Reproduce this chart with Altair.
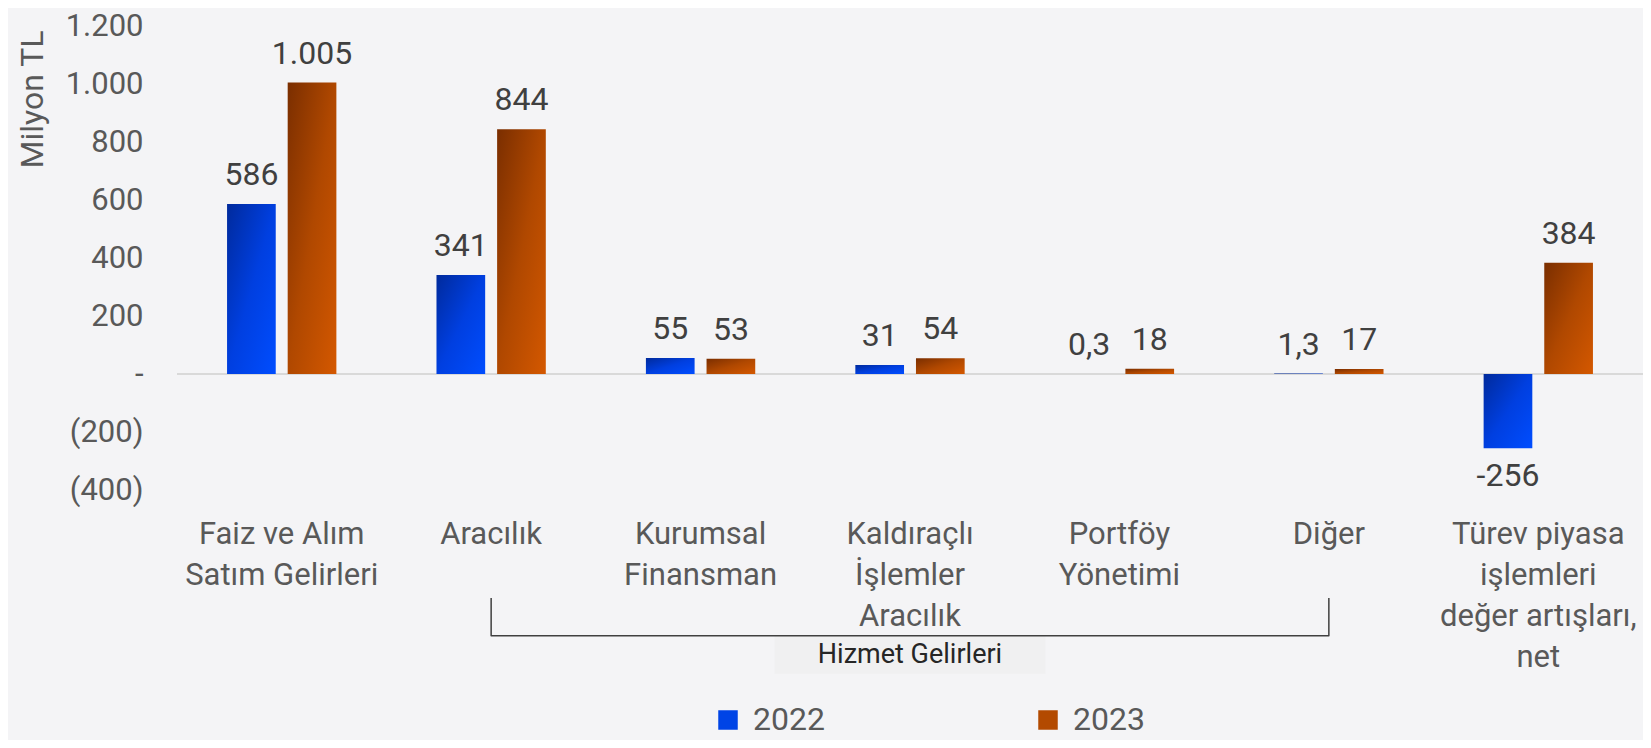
import altair as alt
import pandas as pd

categories = ["Faiz ve Alım|Satım Gelirleri", "Aracılık", "Kurumsal|Finansman",
              "Kaldıraçlı|İşlemler|Aracılık", "Portföy|Yönetimi", "Diğer",
              "Türev piyasa|işlemleri|değer artışları,|net"]
years = ["2022", "2023"]
values_2022 = [586, 341, 55, 31, 0.3, 1.3, -256]
values_2023 = [1005, 844, 53, 54, 18, 17, 384]
labels_2022 = ["586", "341", "55", "31", "0,3", "1,3", "-256"]
labels_2023 = ["1.005", "844", "53", "54", "18", "17", "384"]
y_ticks = [-400, -200, 0, 200, 400, 600, 800, 1000, 1200]
y_domain = [-400, 1200]

bracket_cats = ["Aracılık", "Aracılık", "Diğer", "Diğer"]
bracket_vals = [-772, -903, -903, -772]
bracket_mid = "Kaldıraçlı|İşlemler|Aracılık"
bracket_label = "Hizmet Gelirleri"
box_top, box_bottom = -903, -1034

rows = []
for c, v, l in zip(categories, values_2022, labels_2022):
    rows.append({"category": c, "year": "2022", "value": v, "label": l})
for c, v, l in zip(categories, values_2023, labels_2023):
    rows.append({"category": c, "year": "2023", "value": v, "label": l})
df = pd.DataFrame(rows)

bracket_df = pd.DataFrame({"category": bracket_cats, "value": bracket_vals,
                           "order": list(range(len(bracket_cats)))})
box_df = pd.DataFrame({"category": [bracket_mid], "value": [box_top], "value2": [box_bottom]})
box_text_df = pd.DataFrame({"category": [bracket_mid], "value": [(box_top + box_bottom) / 2],
                            "label": [bracket_label]})
zero_df = pd.DataFrame({"value": [0]})

FONT = "Roboto"
GREY = "#595959"

x_enc = alt.X("category:N", sort=categories,
              scale=alt.Scale(domain=categories, paddingInner=0.478, paddingOuter=0.239),
              axis=alt.Axis(title=None, labelExpr="split(datum.label, '|')", labelAngle=0,
                            domain=False, ticks=False, labelPadding=29, labelBaseline="top",
                            labelLineHeight=41, labelFontSize=31, labelColor=GREY,
                            labelLimit=0, labelFont=FONT))
y_scale = alt.Scale(domain=y_domain, nice=False, zero=False)
label_expr = ("datum.value == 0 ? '-' : (datum.value < 0 ? '(' + replace(format(-datum.value, ','), ',', '.') + ')'"
              " : replace(format(datum.value, ','), ',', '.'))")
y_enc = alt.Y("value:Q", scale=y_scale,
              axis=alt.Axis(values=y_ticks, labelExpr=label_expr, grid=False, domain=False,
                            ticks=False, labelPadding=34, labelFontSize=31, labelColor=GREY,
                            labelFont=FONT, title="Milyon TL", titleFontSize=32,
                            titleColor=GREY, titleFontWeight="normal", titleFont=FONT,
                            titleX=-128, titleY=4, titleAngle=270, titleAlign="right",
                            titleBaseline="bottom"))
xoff = alt.XOffset("year:N", scale=alt.Scale(domain=years, paddingInner=0.197))


def grad(c0, c1, c2):
    return alt.LinearGradient(gradient="linear",
                              stops=[alt.GradientStop(offset=0, color=c0),
                                     alt.GradientStop(offset=0.5, color=c1),
                                     alt.GradientStop(offset=1, color=c2)],
                              x1=0, y1=0, x2=1, y2=1)


blue_grad = grad("#002a9c", "#003fe0", "#004dff")
orange_grad = grad("#7a2e00", "#b04800", "#d45800")

base = alt.Chart(df)

zero_rule = alt.Chart(zero_df).mark_rule(color="#d9d9d9", strokeWidth=2).encode(y=y_enc)

bars22 = base.transform_filter("datum.year == '2022'").mark_bar(fill=blue_grad).encode(
    x=x_enc, xOffset=xoff, y=y_enc)
bars23 = base.transform_filter("datum.year == '2023'").mark_bar(fill=orange_grad).encode(
    x=x_enc, xOffset=xoff, y=y_enc)

legend_layer = base.mark_square(opacity=0).encode(
    x=x_enc, xOffset=xoff, y=y_enc,
    color=alt.Color("year:N", scale=alt.Scale(domain=years, range=["#0044e6", "#b34a00"]),
                    legend=alt.Legend(orient="none", legendX=535, legendY=678,
                                      direction="horizontal", title=None, symbolType="square",
                                      symbolSize=380, symbolOpacity=1, symbolStrokeWidth=0,
                                      labelFontSize=32, labelColor=GREY, labelFont=FONT,
                                      columnPadding=207, labelOffset=9)))

text_pos = base.transform_filter("datum.value >= 0").mark_text(
    dy=-19, baseline="alphabetic", fontSize=32, color="#404040", font=FONT).encode(
    x=x_enc, xOffset=xoff, y=y_enc, text="label:N")
text_neg = base.transform_filter("datum.value < 0").mark_text(
    dy=38, baseline="alphabetic", fontSize=32, color="#404040", font=FONT).encode(
    x=x_enc, xOffset=xoff, y=y_enc, text="label:N")

box = alt.Chart(box_df).mark_bar(width=271, fill="#f0f0f1").encode(
    x=x_enc, y=y_enc, y2="value2:Q")
box_text = alt.Chart(box_text_df).mark_text(fontSize=27, color="#262626", font=FONT,
                                            baseline="middle").encode(
    x=x_enc, y=y_enc, text="label:N")
bracket = alt.Chart(bracket_df).mark_line(color="#404040", strokeWidth=1.5,
                                          strokeJoin="round").encode(
    x=x_enc, y=y_enc, order="order:Q")

chart = alt.layer(zero_rule, box, bracket, box_text, bars22, bars23, legend_layer,
                  text_pos, text_neg).properties(
    width=1466, height=464,
    autosize=alt.AutoSizeParams(type="none"),
    padding={"left": 169, "top": 18, "right": 0, "bottom": 250},
).configure(background="#f4f4f6", font=FONT).configure_view(stroke=None)

chart.save("out.html", embed_options={"renderer": "svg", "actions": False})
